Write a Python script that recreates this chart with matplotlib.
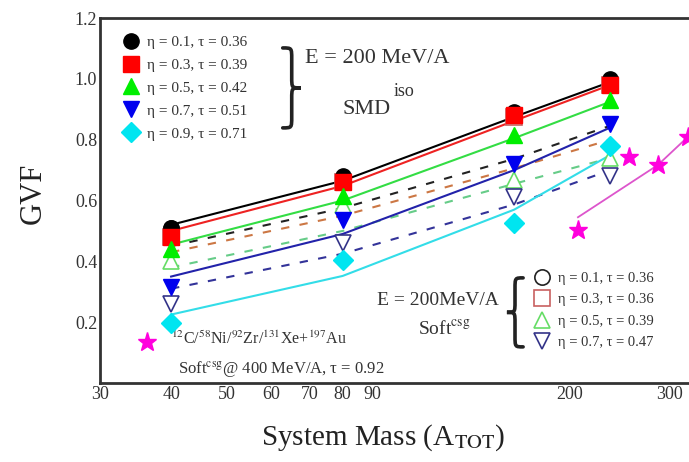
import matplotlib
matplotlib.use('Agg')
import matplotlib.pyplot as plt
import matplotlib.patches as patches
from matplotlib.path import Path
from matplotlib.lines import Line2D

plt.rcParams['font.family'] = ['Liberation Serif', 'DejaVu Serif']
plt.rcParams['mathtext.fontset'] = 'stix'

# Masas de los sistemas
masas = [40, 80, 160, 236]

# SMD iso (marcadores llenos)
smd_labels = ["η = 0.1, τ = 0.36", "η = 0.3, τ = 0.39", "η = 0.5, τ = 0.42",
              "η = 0.7, τ = 0.51", "η = 0.9, τ = 0.71"]
smd_puntos = [
    [0.51, 0.68, 0.89, 1.00],
    [0.48, 0.66, 0.88, 0.98],
    [0.44, 0.615, 0.815, 0.93],
    [0.315, 0.535, 0.72, 0.85],
    [0.197, 0.405, 0.525, 0.78],
]
smd_ajuste = [
    [0.52, 0.665, 0.875, 0.99],
    [0.50, 0.648, 0.862, 0.98],
    [0.455, 0.60, 0.805, 0.925],
    [0.35, 0.49, 0.70, 0.84],
    [0.225, 0.352, 0.57, 0.75],
]

# Soft csg (marcadores vacios)
soft_labels = ["η = 0.1, τ = 0.36", "η = 0.3, τ = 0.36",
               "η = 0.5, τ = 0.39", "η = 0.7, τ = 0.47"]
soft_puntos = [
    [0.51, 0.67, 0.88, 0.99],
    [0.48, 0.66, 0.875, 0.98],
    [0.40, 0.585, 0.667, 0.74],
    [0.26, 0.46, 0.61, 0.68],
]
soft_ajuste = [
    [0.45, 0.575, 0.737, 0.846],
    [0.43, 0.55, 0.706, 0.80],
    [0.38, 0.50, 0.655, 0.74],
    [0.31, 0.425, 0.587, 0.70],
]

# Soft csg @ 400 MeV/A
estrellas_x = [207, 254, 286, 323]
estrellas_y = [0.503, 0.743, 0.717, 0.81]
recta_x = [207, 286, 323]
recta_y = [0.545, 0.717, 0.81]

x_ticks = [30, 40, 50, 60, 70, 80, 90, 200, 300]
y_ticks = [0.2, 0.4, 0.6, 0.8, 1.0, 1.2]

# Estilos
smd_marcas = ['o', 's', '^', 'v', 'D']
smd_colores = ['black', '#ff0000', '#00ee00', '#0000ee', '#00e5f0']
smd_lineas = ['black', '#ee2222', '#33dd44', '#2222aa', '#33dde8']
soft_marcas = ['o', 's', '^', 'v']
soft_colores = ['#222222', '#c86060', '#66dd66', '#333388']
soft_lineas = ['#222222', '#cc7744', '#66cc88', '#333399']


def llave(ax, x, y0, y1, w, sentido):
    # Dibuja una llave vertical en coordenadas de los ejes
    h = x + sentido * w / 2.
    p = x + sentido * w
    ym = (y0 + y1) / 2.
    r = 0.03
    verts = [(x, y1), (h, y1), (h, y1), (h, y1 - r),
             (h, ym + r),
             (h, ym), (h, ym), (p, ym),
             (h, ym), (h, ym), (h, ym - r),
             (h, y0 + r),
             (h, y0), (h, y0), (x, y0)]
    codes = [Path.MOVETO, Path.CURVE4, Path.CURVE4, Path.CURVE4,
             Path.LINETO,
             Path.CURVE4, Path.CURVE4, Path.CURVE4,
             Path.CURVE4, Path.CURVE4, Path.CURVE4,
             Path.LINETO,
             Path.CURVE4, Path.CURVE4, Path.CURVE4]
    ax.add_patch(patches.PathPatch(Path(verts, codes), fill=False, lw=2.6,
                                   edgecolor='#222222', transform=ax.transAxes,
                                   capstyle='round', zorder=5))


fig = plt.figure(figsize=(6.89, 4.62), dpi=100)
ax = fig.add_axes([0.145, 0.171, 0.87, 0.79])

for i in range(len(soft_ajuste)):
    ax.plot(masas, soft_ajuste[i], '--', color=soft_lineas[i], lw=1.5,
            dashes=(4, 5), zorder=2)
for i in range(len(smd_ajuste)):
    ax.plot(masas, smd_ajuste[i], '-', color=smd_lineas[i], lw=1.5, zorder=2)

for i in range(len(soft_puntos)):
    ax.plot(masas, soft_puntos[i], soft_marcas[i], mfc='white', mec=soft_colores[i],
            mew=1.2, ms=11, ls='none', zorder=3)
for i in range(len(smd_puntos)):
    ms = 10 if smd_marcas[i] == 'D' else 11
    ax.plot(masas, smd_puntos[i], smd_marcas[i], color=smd_colores[i], ms=ms,
            ls='none', zorder=4)

ax.plot(recta_x, recta_y, '-', color='#dd55cc', lw=1.3, zorder=2)
ax.plot(estrellas_x, estrellas_y, '*', color='#ff00dd', ms=14, ls='none', zorder=4)

ax.set_xscale('log')
ax.set_xlim(30, 338)
ax.set_ylim(0, 1.2)
ax.set_xticks(x_ticks)
ax.set_xticklabels([str(t) for t in x_ticks])
ax.xaxis.set_minor_locator(matplotlib.ticker.NullLocator())
ax.set_yticks(y_ticks)
ax.set_yticklabels(["%.1f" % t for t in y_ticks])
ax.tick_params(direction='in', length=0, labelsize=13, colors='#333333', pad=2)
ax.spines['right'].set_visible(False)
for s in ['left', 'bottom', 'top']:
    ax.spines[s].set_linewidth(2)
    ax.spines[s].set_color('#333333')

ax.set_ylabel('GVF', fontsize=22, color='#222222')
ax.yaxis.set_label_coords(-0.087, 0.52)
ax.set_xlabel(r'System Mass (A$_{\mathrm{TOT}}$)', fontsize=21, color='#222222')
ax.xaxis.set_label_coords(0.472, -0.108)

# Leyenda SMD
h1 = [Line2D([], [], marker=smd_marcas[i], color=smd_colores[i], ls='none',
             ms=11 if smd_marcas[i] != 'D' else 10) for i in range(5)]
leg1 = ax.legend(h1, smd_labels, loc='upper left', bbox_to_anchor=(0.01, 0.99),
                 frameon=False, fontsize=11, handletextpad=0.3, labelspacing=0.6,
                 handlelength=1.5, labelcolor='#333333')
ax.add_artist(leg1)

# Leyenda Soft
h2 = [Line2D([], [], marker=soft_marcas[i], mfc='white', mec=soft_colores[i],
             mew=1.2, ls='none', ms=11) for i in range(4)]
ax.legend(h2, soft_labels, loc='upper left', bbox_to_anchor=(0.698, 0.34),
          frameon=False, fontsize=10.5, handletextpad=0.3, labelspacing=0.55,
          handlelength=1.5, labelcolor='#333333')

# Textos y llaves
llave(ax, 0.305, 0.699, 0.918, 0.03, 1)
ax.text(0.342, 0.89, 'E = 200 MeV/A', transform=ax.transAxes, fontsize=16,
        va='center', color='#333333')
ax.text(0.405, 0.748, 'SMD', transform=ax.transAxes, fontsize=16,
        va='center', color='#333333')
ax.text(0.49, 0.80, 'iso', transform=ax.transAxes, fontsize=13,
        va='center', color='#333333')

llave(ax, 0.706, 0.099, 0.288, 0.027, -1)
ax.text(0.462, 0.225, 'E = 200MeV/A', transform=ax.transAxes, fontsize=14,
        va='center', color='#333333')
ax.text(0.53, 0.145, r'Soft$^{\mathrm{csg}}$', transform=ax.transAxes, fontsize=14,
        va='center', color='#333333')

ax.plot([0.078], [0.112], '*', color='#ff00dd', ms=14, transform=ax.transAxes)
ax.text(0.118, 0.12, r'$^{12}$C/$^{58}$Ni/$^{92}$Zr/$^{131}$Xe+$^{197}$Au',
        transform=ax.transAxes, fontsize=11.5, va='center', color='#333333')
ax.text(0.13, 0.038, r'Soft$^{\mathrm{csg}}$@ 400 MeV/A, τ = 0.92',
        transform=ax.transAxes, fontsize=12, va='center', color='#333333')

fig.savefig('out.png', dpi=100)
